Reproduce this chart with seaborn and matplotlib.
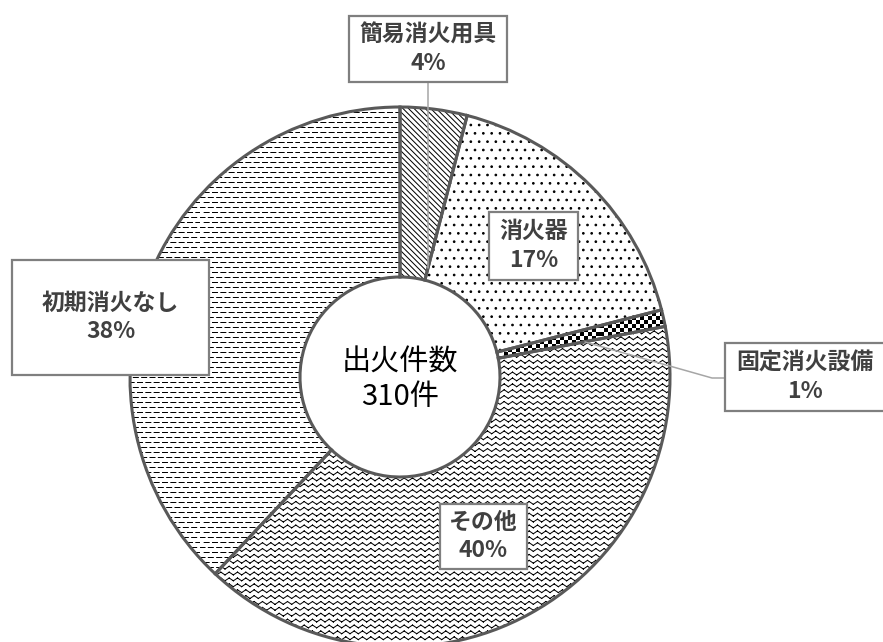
import warnings

import numpy as np
import matplotlib
matplotlib.use("Agg")
import matplotlib.pyplot as plt
from matplotlib import hatch as mhatch
from matplotlib.path import Path
from matplotlib.patches import Rectangle
import seaborn as sns

warnings.filterwarnings("ignore")

# data
categories = ["簡易消火用具", "消火器", "固定消火設備", "その他", "初期消火なし"]
shares = [4, 17, 1, 40, 38]
total_fires = 310
center_title = "出火件数"

# styling
hatches = ["\\\\\\\\\\\\", "..", "c", "z", "d"]
outline_color = "#595959"
text_color = "#404040"
box_color = "#7f7f7f"
leader_color = "#a6a6a6"

# label boxes in pixel coords (left, top, right, bottom), same order as categories
label_boxes = [
    (349, 16, 507, 82),
    (489, 212, 578, 280),
    (725, 343, 885, 411),
    (440, 504, 527, 569),
    (12, 260, 209, 375),
]
leaders = {
    0: [(428, 82), (428, 268)],
    2: [(725, 378), (712, 378), (585, 342)],
}

CX, CY, R = 400, 377, 270  # pie centre and radius in pixels
W, H = 883, 642


def px(x, y):
    """Pixel position -> data position."""
    return (x - CX) / R, (CY - y) / R


class ZigzagHatch(mhatch.HatchPatternBase):
    rows, waves, amp = 17, 12, 0.014

    def __init__(self, hatch, density):
        self.num_vertices = 4 * self.rows * self.waves if "z" in hatch else 0

    def set_vertices_and_codes(self, vertices, codes):
        xs = np.linspace(0, 1, 2 * self.waves + 1)
        offs = np.where(np.arange(len(xs)) % 2 == 0, -self.amp, self.amp)
        chunks = []
        for r in range(self.rows):
            ys = (r + 0.5) / self.rows + offs
            seg = np.empty((4 * self.waves, 2))
            seg[0::2] = np.column_stack([xs[:-1], ys[:-1]])
            seg[1::2] = np.column_stack([xs[1:], ys[1:]])
            chunks.append(seg)
        vertices[:] = np.vstack(chunks)
        codes[0::2] = Path.MOVETO
        codes[1::2] = Path.LINETO


class CheckerHatch(mhatch.HatchPatternBase):
    n = 25

    def __init__(self, hatch, density):
        self.num_vertices = 5 * ((self.n * self.n + 1) // 2) if "c" in hatch else 0

    def set_vertices_and_codes(self, vertices, codes):
        s = 1.0 / self.n
        g = 0.005
        sq = np.array([[g, g], [s - g, g], [s - g, s - g], [g, s - g], [g, g]])
        sq_codes = [Path.MOVETO, Path.LINETO, Path.LINETO, Path.LINETO, Path.CLOSEPOLY]
        k = 0
        for i in range(self.n):
            for j in range(self.n):
                if (i + j) % 2 == 0:
                    vertices[k:k + 5] = sq + [i * s, j * s]
                    codes[k:k + 5] = sq_codes
                    k += 5


class DashHatch(mhatch.HatchPatternBase):
    rows, dashes, frac = 20, 12, 0.6

    def __init__(self, hatch, density):
        self.num_vertices = 2 * self.rows * self.dashes if "d" in hatch else 0

    def set_vertices_and_codes(self, vertices, codes):
        step = 1.0 / self.dashes
        chunks = []
        for r in range(self.rows):
            y = (r + 0.5) / self.rows
            x0 = (np.arange(self.dashes) + 0.5 * (r % 2)) * step
            x1 = x0 + step * self.frac
            seg = np.empty((2 * self.dashes, 2))
            seg[0::2, 0] = x0
            seg[1::2, 0] = np.minimum(x1, 1.0)
            seg[:, 1] = y
            chunks.append(seg)
        vertices[:] = np.vstack(chunks)
        codes[0::2] = Path.MOVETO
        codes[1::2] = Path.LINETO


mhatch._hatch_types.extend([ZigzagHatch, CheckerHatch, DashHatch])

sns.set_theme(style="white")
plt.rcParams["font.family"] = ["Noto Sans CJK JP", "DejaVu Sans"]
plt.rcParams["hatch.linewidth"] = 0.72

fig = plt.figure(figsize=(W / 100, H / 100), dpi=100)
ax = fig.add_axes([0, 0, 1, 1])

ring = 1 - 100 / R

# hatched fills
wedges, _ = ax.pie(
    shares,
    startangle=90,
    counterclock=False,
    colors=["white"] * len(shares),
    hatch=hatches,
    wedgeprops=dict(width=ring, edgecolor="black", linewidth=0),
)
# outlines on top
ax.pie(
    shares,
    startangle=90,
    counterclock=False,
    colors=["none"] * len(shares),
    wedgeprops=dict(width=ring, edgecolor=outline_color, linewidth=2.2, fill=False),
)

ax.set_xlim(px(0, 0)[0], px(W, 0)[0])
ax.set_ylim(px(0, H)[1], px(0, 0)[1])
ax.set_aspect("auto")
ax.axis("off")

# leader lines
for idx, pts in leaders.items():
    xy = np.array([px(x, y) for x, y in pts])
    ax.plot(xy[:, 0], xy[:, 1], color=leader_color, lw=1.1, zorder=3)

# label boxes
for cat, share, (l, t, r, b) in zip(categories, shares, label_boxes):
    x0, y0 = px(l, b)
    x1, y1 = px(r, t)
    ax.add_patch(Rectangle((x0, y0), x1 - x0, y1 - y0, facecolor="white",
                           edgecolor=box_color, lw=1.6, zorder=4))
    ax.text((x0 + x1) / 2, (y0 + y1) / 2, f"{cat}\n{share}%",
            ha="center", va="center", fontsize=16.5, fontweight="bold",
            color=text_color, linespacing=1.3, zorder=5)

# centre caption
cx, cy = px(400, 380)
ax.text(cx, cy, f"{center_title}\n{total_fires}件", ha="center", va="center",
        fontsize=21, color="black", linespacing=1.2, zorder=5)

fig.savefig("out.png", dpi=100)
